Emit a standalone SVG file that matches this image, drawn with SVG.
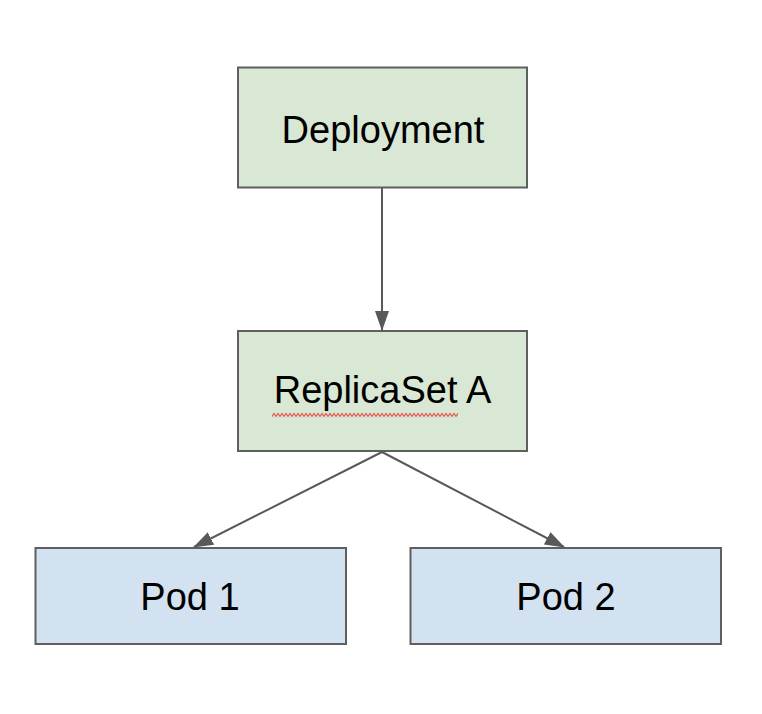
<svg xmlns="http://www.w3.org/2000/svg" width="762" height="714" viewBox="0 0 762 714">
  <style>
    .green { fill: #d9e8d4; stroke: #5f5f5f; stroke-width: 2; }
    .blue { fill: #d2e2f1; stroke: #5f5f5f; stroke-width: 2; }
    .label { font-family: "Liberation Sans", Arial, sans-serif; font-size: 38px; fill: #000000; text-anchor: middle; }
    .conn { stroke: #595959; stroke-width: 2; fill: none; }
  </style>
  <defs>
    <marker id="arrow" markerUnits="userSpaceOnUse" markerWidth="20" markerHeight="14" refX="19" refY="7" orient="auto">
      <path d="M0,0 L20,7 L0,14 Z" fill="#595959"/>
    </marker>
    <pattern id="squiggle" x="272" y="412.5" width="4" height="5" patternUnits="userSpaceOnUse">
      <polyline points="0,4 2,1 4,4" fill="none" stroke="#e0403a" stroke-width="1.1"/>
    </pattern>
  </defs>
  <rect width="762" height="714" fill="#ffffff"/>
  <g id="connectors">
    <line class="conn" x1="382" y1="188" x2="382" y2="330" marker-end="url(#arrow)"/>
    <line class="conn" x1="382" y1="452" x2="194" y2="547" marker-end="url(#arrow)"/>
    <line class="conn" x1="382" y1="452" x2="564" y2="547" marker-end="url(#arrow)"/>
  </g>
  <g id="deployment">
    <rect class="green" x="238" y="67.5" width="289" height="120"/>
    <text class="label" x="383" y="143">Deployment</text>
  </g>
  <g id="replicaset-a">
    <rect class="green" x="238" y="331" width="289" height="120"/>
    <text class="label" x="382.5" y="403">ReplicaSet A</text>
    <rect x="272" y="412.5" width="186" height="5" fill="url(#squiggle)"/>
  </g>
  <g id="pod-1">
    <rect class="blue" x="35.5" y="548" width="310.5" height="96"/>
    <text class="label" x="190" y="610">Pod 1</text>
  </g>
  <g id="pod-2">
    <rect class="blue" x="410.5" y="548" width="310.5" height="96"/>
    <text class="label" x="566" y="610">Pod 2</text>
  </g>
</svg>
